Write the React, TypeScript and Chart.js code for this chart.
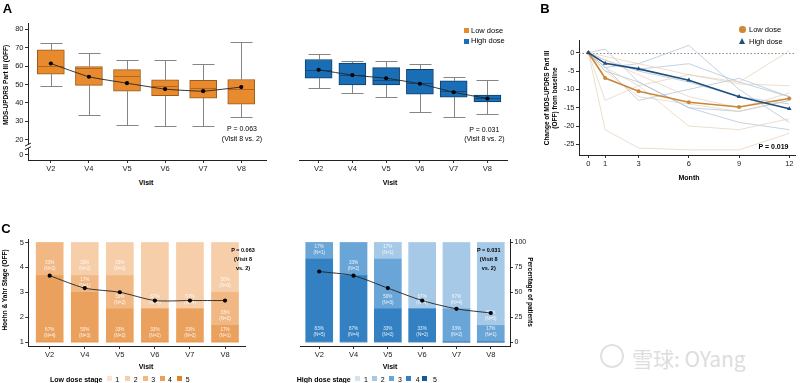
import React, { useEffect, useRef } from 'react';
import { Chart, registerables } from 'chart.js';

Chart.register(...registerables);
const FONT = "'Liberation Sans', Arial, Helvetica, sans-serif";
Chart.defaults.font.family = FONT;
Chart.defaults.color = '#222';

// ---------------- Panel A: box plot statistics (MDS-UPDRS Part III, OFF) ----------------
const VISITS = ['V2', 'V4', 'V5', 'V6', 'V7', 'V8'];

const LOW_MIN = [49.1, 33.2, 28.0, 27.2, 27.2, 32.3];
const LOW_Q1 = [55.6, 49.5, 46.4, 44.0, 42.6, 39.3];
const LOW_MEDIAN = [60.3, 59.2, 54.5, 49.1, 48.2, 47.5];
const LOW_Q3 = [68.8, 59.8, 58.1, 52.5, 52.3, 52.7];
const LOW_MAX = [72.4, 67.3, 63.2, 63.2, 61.4, 73.3];
const LOW_MEAN = [61.4, 54.2, 50.7, 47.5, 46.4, 48.6];

const HIGH_MIN = [48.0, 45.3, 43.1, 35.2, 32.3, 34.0];
const HIGH_Q1 = [53.4, 49.8, 49.8, 44.8, 43.1, 40.6];
const HIGH_MEDIAN = [58.0, 55.1, 52.5, 50.9, 46.7, 42.4];
const HIGH_Q3 = [63.6, 61.7, 59.2, 58.3, 52.0, 44.2];
const HIGH_MAX = [66.4, 62.5, 62.5, 61.4, 54.2, 52.3];
const HIGH_MEAN = [58.0, 55.1, 53.4, 50.4, 45.8, 42.4];

const A_Y_TICKS = [20, 30, 40, 50, 60, 70, 80];
const A_ZERO_TICK = 11.8; // where the "0" label sits below the axis break

// ---------------- Panel B: change from baseline ----------------
const MONTHS = [0, 1, 3, 6, 9, 12];
const B_Y_TICKS = [-25, -20, -15, -10, -5, 0];
const B_LOW_MEAN = [0, -6.9, -10.5, -13.5, -14.8, -12.5];
const B_HIGH_MEAN = [0, -2.9, -4.4, -7.5, -12.0, -15.3];

const B_LOW_P1 = [0, -21, -26, -26.5, -26.5, -22];
const B_LOW_P2 = [0, -13, -9, -6, -8, 0.5];
const B_LOW_P3 = [0, -1, -3, -6, -8.5, -9];
const B_LOW_P4 = [0, -4, -9, -20, -21, -18];
const B_LOW_P5 = [0, -5, -12, -14, -16, -13];
const B_LOW_P6 = [0, -2, -6, -12, -15, -11];

const B_HIGH_P1 = [0, 1, -8, -15, -19, -21];
const B_HIGH_P2 = [0, -4, -3, 2, -10, -19];
const B_HIGH_P3 = [0, -3, -4.5, -3, -8, -12];
const B_HIGH_P4 = [0, -4, -13, -10, -7, -12];
const B_HIGH_P5 = [0, -2, -5, -8, -12, -14];
const B_HIGH_P6 = [0, -5, -8, -15, -16, -13];

// ---------------- Panel C: Hoehn & Yahr stage counts (N = 6 per visit) ----------------
const STAGES = [1, 2, 3, 4, 5];
const C_TOTAL = 6;
const C_STAGE_TICKS = [1, 2, 3, 4, 5];
const C_PCT_TICKS = [0, 25, 50, 75, 100];

const LOW_STAGE1 = [0, 0, 0, 0, 0, 0];
const LOW_STAGE2 = [0, 2, 2, 4, 4, 3];
const LOW_STAGE3 = [2, 1, 2, 0, 0, 2];
const LOW_STAGE4 = [4, 3, 2, 2, 2, 1];
const LOW_STAGE5 = [0, 0, 0, 0, 0, 0];

const HIGH_STAGE1 = [0, 0, 0, 0, 0, 0];
const HIGH_STAGE2 = [0, 0, 1, 4, 4, 5];
const HIGH_STAGE3 = [1, 2, 3, 0, 2, 1];
const HIGH_STAGE4 = [5, 4, 2, 2, 0, 0];
const HIGH_STAGE5 = [0, 0, 0, 0, 0, 0];

const LOW_STAGE_COLORS = ['#FBE5D2', '#F6CEA9', '#F1B883', '#EBA15E', '#E2822A'];
const HIGH_STAGE_COLORS = ['#D2E3F2', '#A6C9E7', '#6AA5D7', '#3381C2', '#15599A'];

// ---------------- shared helpers ----------------
const tickGrid = { display: true, drawOnChartArea: false, drawTicks: true, tickLength: 3, color: '#333', lineWidth: 1, offset: false };
const axisBorder = { display: true, color: '#222', width: 1 };

const visitAxis = (min: number, max: number, height: number, extra: any = {}) => ({
  type: 'linear',
  min,
  max,
  offset: false,
  ...extra,
  afterBuildTicks: (s: any) => { s.ticks = VISITS.map((_, i) => ({ value: i })); },
  afterFit: (s: any) => { s.height = height; },
  ticks: { callback: (v: any) => VISITS[Math.round(v)] ?? '', font: { size: 7.5 }, color: '#222', padding: 1, maxRotation: 0, autoSkip: false },
  grid: tickGrid,
  border: axisBorder,
});

const baseOptions = (padding: any) => ({
  responsive: false,
  animation: false,
  devicePixelRatio: 1,
  layout: { padding },
  plugins: { legend: { display: false }, tooltip: { enabled: false } },
});

type Stats = { min: number[]; q1: number[]; med: number[]; q3: number[]; max: number[]; mean: number[] };
const LOW_STATS: Stats = { min: LOW_MIN, q1: LOW_Q1, med: LOW_MEDIAN, q3: LOW_Q3, max: LOW_MAX, mean: LOW_MEAN };
const HIGH_STATS: Stats = { min: HIGH_MIN, q1: HIGH_Q1, med: HIGH_MEDIAN, q3: HIGH_Q3, max: HIGH_MAX, mean: HIGH_MEAN };

const whiskerPlugin = (st: Stats, medianColor: string) => ({
  id: 'whiskers',
  beforeDatasetsDraw(chart: any) {
    const { ctx, scales: { x, y } } = chart;
    ctx.save();
    ctx.strokeStyle = '#858585';
    ctx.lineWidth = 1;
    st.min.forEach((_, i) => {
      const px = Math.round(x.getPixelForValue(i)) + 0.5;
      const yMax = Math.round(y.getPixelForValue(st.max[i])) + 0.5;
      const yMin = Math.round(y.getPixelForValue(st.min[i])) + 0.5;
      const yQ3 = y.getPixelForValue(st.q3[i]);
      const yQ1 = y.getPixelForValue(st.q1[i]);
      ctx.beginPath();
      ctx.moveTo(px, yMax); ctx.lineTo(px, yQ3);
      ctx.moveTo(px, yQ1); ctx.lineTo(px, yMin);
      ctx.moveTo(px - 11, yMax); ctx.lineTo(px + 11, yMax);
      ctx.moveTo(px - 11, yMin); ctx.lineTo(px + 11, yMin);
      ctx.stroke();
    });
    ctx.restore();
  },
  afterDatasetDraw(chart: any, args: any) {
    if (args.index !== 0) return;
    const { ctx, scales: { x, y } } = chart;
    ctx.save();
    ctx.strokeStyle = medianColor;
    ctx.lineWidth = 1;
    st.med.forEach((m, i) => {
      const px = x.getPixelForValue(i);
      const py = Math.round(y.getPixelForValue(m)) + 0.5;
      ctx.beginPath();
      ctx.moveTo(px - 13, py); ctx.lineTo(px + 13, py);
      ctx.stroke();
    });
    ctx.restore();
  },
});

const breakPlugin = {
  id: 'axisBreak',
  afterDraw(chart: any) {
    const { ctx, chartArea, scales: { y } } = chart;
    const x0 = chartArea.left;
    const ya = y.getPixelForValue(17.4);
    const yb = y.getPixelForValue(15.4);
    ctx.save();
    ctx.fillStyle = '#fff';
    ctx.fillRect(x0 - 2, ya, 4, yb - ya);
    ctx.strokeStyle = '#222';
    ctx.lineWidth = 1;
    ctx.beginPath();
    ctx.moveTo(x0 - 3, ya + 1.5); ctx.lineTo(x0 + 3, ya - 1.5);
    ctx.moveTo(x0 - 3, yb + 1.5); ctx.lineTo(x0 + 3, yb - 1.5);
    ctx.stroke();
    ctx.restore();
  },
};

function makeBoxChart(st: Stats, fill: string, edge: string, median: string, showY: boolean, xMin: number, xMax: number, padding: any) {
  return () => ({
    type: 'bar',
    data: {
      datasets: [
        {
          type: 'bar',
          data: VISITS.map((_, i) => ({ x: i, y: [st.q1[i], st.q3[i]] })),
          backgroundColor: fill,
          borderColor: edge,
          borderWidth: 1,
          borderSkipped: false,
          barThickness: 27,
          order: 1,
        },
        {
          type: 'line',
          data: VISITS.map((_, i) => ({ x: i, y: st.mean[i] })),
          borderColor: '#222',
          borderWidth: 0.9,
          pointRadius: 2.1,
          pointBackgroundColor: '#000',
          pointBorderWidth: 0,
          tension: 0.15,
          order: 0,
        },
      ],
    },
    options: {
      ...baseOptions(padding),
      scales: {
        x: visitAxis(xMin, xMax, 15),
        y: {
          type: 'linear',
          display: showY,
          min: 9,
          max: 83.4,
          beginAtZero: false,
          afterBuildTicks: (s: any) => { s.ticks = [A_ZERO_TICK, ...A_Y_TICKS].map((v) => ({ value: v })); },
          afterFit: (s: any) => { s.width = 28; },
          ticks: { callback: (v: any) => (v < 15 ? '0' : String(v)), font: { size: 7.5 }, color: '#222', padding: 1.5 },
          grid: tickGrid,
          border: axisBorder,
        },
      },
    },
    plugins: [whiskerPlugin(st, median), ...(showY ? [breakPlugin] : [])],
  });
}

// ---------------- Panel B ----------------
const zeroLinePlugin = {
  id: 'zeroLine',
  beforeDatasetsDraw(chart: any) {
    const { ctx, chartArea, scales: { y } } = chart;
    const py = Math.round(y.getPixelForValue(0)) + 0.5;
    ctx.save();
    ctx.strokeStyle = '#8a8a8a';
    ctx.lineWidth = 1;
    ctx.setLineDash([1.5, 2]);
    ctx.beginPath();
    ctx.moveTo(chartArea.left, py);
    ctx.lineTo(chartArea.right, py);
    ctx.stroke();
    ctx.restore();
  },
};

const indLine = (vals: number[], color: string) => ({
  type: 'line',
  data: MONTHS.map((m, i) => ({ x: m, y: vals[i] })),
  borderColor: color,
  borderWidth: 0.8,
  pointRadius: 0,
  tension: 0,
  order: 2,
});

const makeChangeChart = () => ({
  type: 'line',
  data: {
    datasets: [
      ...[B_LOW_P1, B_LOW_P2, B_LOW_P3, B_LOW_P4, B_LOW_P5, B_LOW_P6].map((v) => indLine(v, 'rgba(225,203,175,0.8)')),
      ...[B_HIGH_P1, B_HIGH_P2, B_HIGH_P3, B_HIGH_P4, B_HIGH_P5, B_HIGH_P6].map((v) => indLine(v, 'rgba(160,186,210,0.8)')),
      {
        type: 'line',
        data: MONTHS.map((m, i) => ({ x: m, y: B_LOW_MEAN[i] })),
        borderColor: '#C9873A',
        borderWidth: 1.6,
        pointStyle: 'circle',
        pointRadius: 2,
        pointBackgroundColor: '#C9873A',
        pointBorderWidth: 0,
        tension: 0,
        order: 1,
      },
      {
        type: 'line',
        data: MONTHS.map((m, i) => ({ x: m, y: B_HIGH_MEAN[i] })),
        borderColor: '#1D4F7E',
        borderWidth: 1.6,
        pointStyle: 'triangle',
        pointRadius: 2.6,
        pointBackgroundColor: '#1D4F7E',
        pointBorderWidth: 0,
        tension: 0,
        order: 0,
      },
    ],
  },
  options: {
    ...baseOptions({ left: 0, top: 40, right: 5, bottom: 0 }),
    scales: {
      x: {
        type: 'linear',
        min: -0.56,
        max: 12.34,
        afterBuildTicks: (s: any) => { s.ticks = MONTHS.map((v) => ({ value: v })); },
        afterFit: (s: any) => { s.height = 20; },
        ticks: { font: { size: 7.5 }, color: '#222', padding: 1, maxRotation: 0, autoSkip: false },
        grid: tickGrid,
        border: axisBorder,
      },
      y: {
        type: 'linear',
        min: -27.9,
        max: 3.47,
        afterBuildTicks: (s: any) => { s.ticks = B_Y_TICKS.map((v) => ({ value: v })); },
        afterFit: (s: any) => { s.width = 19; },
        ticks: { font: { size: 7.5 }, color: '#222', padding: 1.5 },
        grid: tickGrid,
        border: axisBorder,
      },
    },
  },
  plugins: [zeroLinePlugin],
});

// ---------------- Panel C ----------------
const stageLabelPlugin = (counts: number[][]) => ({
  id: 'stageLabels',
  beforeDatasetDraw(chart: any, args: any) {
    if (args.index !== counts.length) return;
    const { ctx } = chart;
    ctx.save();
    ctx.fillStyle = 'rgba(255,255,255,0.88)';
    ctx.font = `4.6px ${FONT}`;
    ctx.textAlign = 'center';
    ctx.textBaseline = 'middle';
    counts.forEach((row, d) => {
      const meta = chart.getDatasetMeta(d);
      row.forEach((n, i) => {
        if (!n) return;
        const el: any = meta.data[i];
        const pct = Math.round((n / C_TOTAL) * 100);
        ctx.fillText(`${pct}%`, el.x, el.base - 12.5);
        ctx.fillText(`(N=${n})`, el.x, el.base - 6.5);
      });
    });
    ctx.restore();
  },
});

function makeStageChart(stageCounts: number[][], colors: string[], leftAxis: boolean, xMin: number, xMax: number, padding: any) {
  // stageCounts indexed by stage 1..5; stack higher stages at the bottom
  const order = [4, 3, 2, 1, 0];
  const stacked = order.map((s) => stageCounts[s]);
  const meanStage = VISITS.map((_, i) => STAGES.reduce((acc, st, s) => acc + st * stageCounts[s][i], 0) / C_TOTAL);
  return () => ({
    type: 'bar',
    data: {
      datasets: [
        ...order.map((s) => ({
          type: 'bar',
          data: VISITS.map((_, i) => ({ x: i, y: (stageCounts[s][i] / C_TOTAL) * 100 })),
          backgroundColor: colors[s],
          borderWidth: 0,
          barThickness: 27,
          yAxisID: 'yp',
          order: 1,
        })),
        {
          type: 'line',
          data: VISITS.map((_, i) => ({ x: i, y: meanStage[i] })),
          yAxisID: 'y',
          borderColor: '#222',
          borderWidth: 0.9,
          pointRadius: 2.1,
          pointBackgroundColor: '#000',
          pointBorderWidth: 0,
          tension: 0.25,
          order: 0,
        },
      ],
    },
    options: {
      ...baseOptions(padding),
      scales: {
        x: visitAxis(xMin, xMax, 24, { stacked: true }),
        y: {
          type: 'linear',
          position: 'left',
          display: leftAxis,
          min: 0.84,
          max: 5.14,
          beginAtZero: false,
          afterBuildTicks: (s: any) => { s.ticks = C_STAGE_TICKS.map((v) => ({ value: v })); },
          afterFit: (s: any) => { s.width = 28.3; },
          ticks: { font: { size: 7.5 }, color: '#222', padding: 1.5 },
          grid: tickGrid,
          border: axisBorder,
        },
        yp: {
          type: 'linear',
          position: 'right',
          display: !leftAxis,
          stacked: true,
          min: -4,
          max: 103.5,
          beginAtZero: false,
          afterBuildTicks: (s: any) => { s.ticks = C_PCT_TICKS.map((v) => ({ value: v })); },
          afterFit: (s: any) => { s.width = 20; },
          ticks: { font: { size: 7 }, color: '#222', padding: 1.5 },
          grid: tickGrid,
          border: axisBorder,
        },
      },
    },
    plugins: [stageLabelPlugin(stacked)],
  });
}

// ---------------- components ----------------
function ChartCanvas({ x, y, w, h, make }: { x: number; y: number; w: number; h: number; make: () => any }) {
  const ref = useRef<HTMLCanvasElement>(null);
  useEffect(() => {
    if (!ref.current) return;
    const chart = new Chart(ref.current, make());
    return () => chart.destroy();
  }, []);
  return <canvas ref={ref} width={w} height={h} style={{ position: 'absolute', left: x, top: y, width: w, height: h }} />;
}

function T({ x, y, s = 7, b = false, rot = 0, left = false, color = '#000', family = FONT, children }: any) {
  return (
    <span
      style={{
        position: 'absolute',
        display: 'block',
        left: x,
        top: y,
        fontFamily: family,
        fontSize: s,
        fontWeight: b ? 700 : 400,
        color,
        lineHeight: 1,
        whiteSpace: 'nowrap',
        transform: `translate(${left ? '0' : '-50%'}, -50%) rotate(${rot}deg)`,
      }}
    >
      {children}
    </span>
  );
}

function Sq({ x, y, c, w = 5, h = 5 }: any) {
  return <div style={{ position: 'absolute', left: x, top: y, width: w, height: h, background: c }} />;
}

export default function App() {
  const lowStages = [LOW_STAGE1, LOW_STAGE2, LOW_STAGE3, LOW_STAGE4, LOW_STAGE5];
  const highStages = [HIGH_STAGE1, HIGH_STAGE2, HIGH_STAGE3, HIGH_STAGE4, HIGH_STAGE5];
  const lowLegendX = [107.3, 125, 142.7, 159.5, 176.7];
  const lowLegendT = [117.3, 135.7, 153.3, 170, 187.7];
  const highLegendX = [355.3, 372.3, 389, 405.7, 422.3];
  const highLegendT = [366, 382.7, 400, 417.7, 435];
  return (
    <div style={{ position: 'absolute', left: 0, top: 0, width: 800, height: 383, background: '#fff', overflow: 'hidden' }}>
      {/* Panel A */}
      <ChartCanvas x={0} y={0} w={270} h={175} make={makeBoxChart(LOW_STATS, '#E88B2E', '#9C5A1C', '#B8651A', true, -0.6, 5.65, { left: 0, top: 23, right: 3, bottom: 0 })} />
      <ChartCanvas x={268} y={0} w={245} h={175} make={makeBoxChart(HIGH_STATS, '#1A6EB5', '#0C3F6E', '#0E4A85', false, -0.56, 5.58, { left: 3.7, top: 23, right: 6, bottom: 0 })} />
      <T x={7.5} y={8} s={13} b>A</T>
      <T x={5.5} y={85} s={6.5} b rot={-90}>MDS-UPDRS Part III (OFF)</T>
      <T x={146} y={182} s={7} b>Visit</T>
      <T x={390} y={182} s={7} b>Visit</T>
      <T x={242} y={128.3} s={7}>P = 0.063</T>
      <T x={242} y={137.7} s={7}>(Visit 8 vs. 2)</T>
      <T x={484.3} y={129.3} s={7}>P = 0.031</T>
      <T x={484.3} y={137.7} s={7}>(Visit 8 vs. 2)</T>
      <Sq x={464} y={28.3} c="#E88B2E" />
      <T x={471} y={30.8} s={7.5} left>Low dose</T>
      <Sq x={464} y={38.7} c="#1A6EB5" />
      <T x={471} y={41.2} s={7.5} left>High dose</T>

      {/* Panel B */}
      <ChartCanvas x={560} y={0} w={240} h={175} make={makeChangeChart} />
      <T x={545} y={8} s={13} b>B</T>
      <T x={547} y={97.5} s={6.5} b rot={-90}>Change of MDS-UPDRS Part III</T>
      <T x={554.5} y={97.5} s={6.5} b rot={-90}>(OFF) from baseline</T>
      <T x={689} y={177} s={7} b>Month</T>
      <T x={773.5} y={146} s={7} b>P = 0.019</T>
      <div style={{ position: 'absolute', left: 739, top: 26.3, width: 6.5, height: 6.5, borderRadius: '50%', background: '#D08A35' }} />
      <T x={749} y={29.5} s={7.5} left>Low dose</T>
      <div style={{ position: 'absolute', left: 738.8, top: 38.2, width: 0, height: 0, borderLeft: '3.6px solid transparent', borderRight: '3.6px solid transparent', borderBottom: '6.5px solid #1D4F7E' }} />
      <T x={749} y={41.7} s={7.5} left>High dose</T>

      {/* Panel C */}
      <ChartCanvas x={0} y={225} w={270} h={145} make={makeStageChart(lowStages, LOW_STAGE_COLORS, true, -0.61, 5.57, { left: 0, top: 14, right: 5, bottom: 0 })} />
      <ChartCanvas x={268} y={225} w={262} h={145} make={makeStageChart(highStages, HIGH_STAGE_COLORS, false, -0.56, 5.56, { left: 3.7, top: 14, right: 0, bottom: 0 })} />
      <T x={6} y={228} s={13} b>C</T>
      <T x={5} y={290} s={6.5} b rot={-90}>Hoehn &amp; Yahr Stage (OFF)</T>
      <T x={146} y={366} s={7} b>Visit</T>
      <T x={390} y={366} s={7} b>Visit</T>
      <T x={530} y={292} s={6.5} b rot={90}>Percentage of patients</T>
      <T x={243} y={250.7} s={5.5} b>P = 0.063</T>
      <T x={243} y={260} s={5.5} b>(Visit 8</T>
      <T x={243} y={269} s={5.5} b>vs. 2)</T>
      <T x={488.7} y={250.7} s={5.5} b>P = 0.031</T>
      <T x={488.7} y={260} s={5.5} b>(Visit 8</T>
      <T x={488.7} y={269} s={5.5} b>vs. 2)</T>

      <T x={50} y={378.5} s={7} b left>Low dose stage</T>
      {STAGES.map((st, k) => (
        <React.Fragment key={'l' + st}>
          <Sq x={lowLegendX[k]} y={376} c={LOW_STAGE_COLORS[k]} />
          <T x={lowLegendT[k]} y={378.5} s={7}>{st}</T>
        </React.Fragment>
      ))}
      <T x={296.7} y={378.5} s={7} b left>High dose stage</T>
      {STAGES.map((st, k) => (
        <React.Fragment key={'h' + st}>
          <Sq x={highLegendX[k]} y={376} c={HIGH_STAGE_COLORS[k]} />
          <T x={highLegendT[k]} y={378.5} s={7}>{st}</T>
        </React.Fragment>
      ))}

      {/* source watermark */}
      <div style={{ position: 'absolute', left: 600, top: 344, width: 24, height: 24, borderRadius: '50%', border: '2px solid #e2e2e2', boxSizing: 'border-box' }} />
      <T x={632} y={357.5} s={21} left color="#dddddd" family="'Noto Sans CJK SC', 'Noto Sans', sans-serif">雪球: OYang</T>
    </div>
  );
}
